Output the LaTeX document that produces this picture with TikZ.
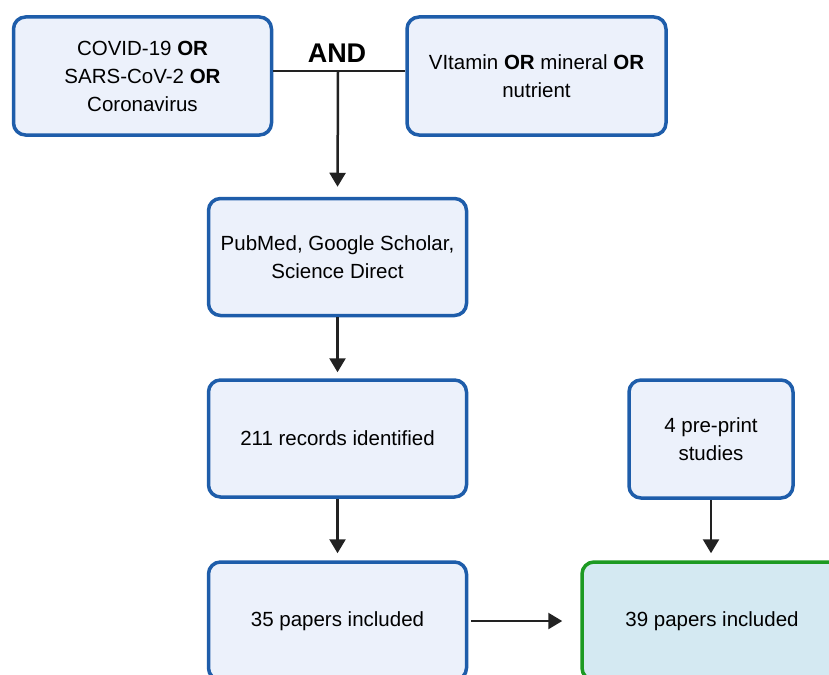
\documentclass[tikz,border=0pt]{standalone}
\usepackage{fontspec}
\setmainfont{Liberation Sans}
\usetikzlibrary{arrows.meta}
\definecolor{boxfill}{HTML}{ECF1FB}
\definecolor{boxline}{HTML}{1E5DAA}
\definecolor{endfill}{HTML}{D4E9F2}
\definecolor{endline}{HTML}{1D9A22}
\definecolor{arrcol}{HTML}{222222}
\tikzset{
  box/.style={draw=boxline, fill=boxfill, line width=3.5pt, rounded corners=12pt,
    align=center, font=\fontsize{20.5}{28}\selectfont, text=black, inner sep=0pt},
  endbox/.style={box, draw=endline, fill=endfill},
  conn/.style={draw=arrcol, line width=2.5pt},
  arr/.style={conn, -{Triangle[width=16pt,length=14pt]}},
}
\begin{document}
\begin{tikzpicture}[x=1pt,y=-1pt]
\useasboundingbox (0,0) rectangle (829,674);
\node[box, minimum width=258pt, minimum height=118pt] (A) at (142.5,76)
  {COVID-19 \textbf{OR}\\SARS-CoV-2 \textbf{OR}\\Coronavirus};
\node[box, minimum width=259pt, minimum height=118pt] (B) at (536.5,76)
  {VItamin \textbf{OR} mineral \textbf{OR}\\nutrient};
\node[box, minimum width=258pt, minimum height=117pt] (C) at (337.5,257)
  {PubMed, Google Scholar,\\Science Direct};
\node[box, minimum width=258pt, minimum height=117pt] (D) at (337.5,438.5)
  {211 records identified};
\node[box, minimum width=258pt, minimum height=118pt] (E) at (337.5,621)
  {35 papers included};
\node[endbox, minimum width=260pt, minimum height=118pt] (F) at (712,621)
  {39 papers included};
\node[box, minimum width=164pt, minimum height=118pt] (G) at (711,439)
  {4 pre-print\\studies};
\node[font=\fontsize{27}{30}\selectfont\bfseries] (and) at (337,53) {AND};
\coordinate (j) at (338,71);
\draw[conn] (A.east |- j) -- (B.west |- j);
\draw[arr, shorten >=10pt] (j) -- (C.north);
\draw[arr, shorten >=6pt] (C) -- (D);
\draw[arr, shorten >=7pt] (D) -- (E);
\draw[arr, shorten >=7pt] (G.south) -- (G.south |- F.north);
\draw[arr, shorten <=3pt, shorten >=18pt] (E) -- (F.west);
\end{tikzpicture}
\end{document}
